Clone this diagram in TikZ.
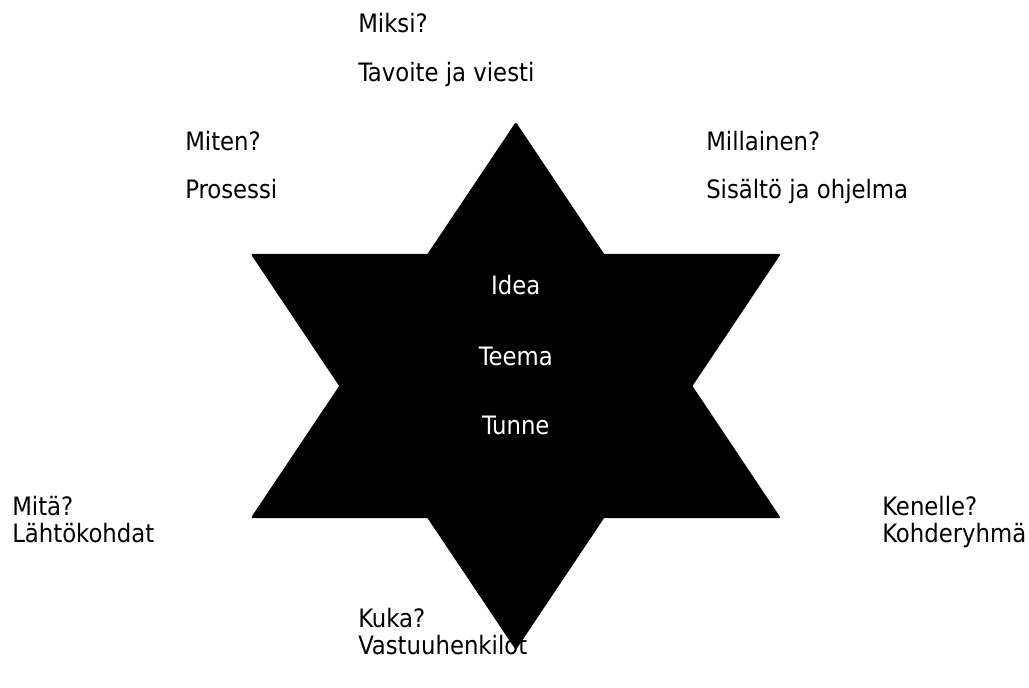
\documentclass[tikz,border=0pt]{standalone}
\usepackage{fontspec}
\setmainfont{DejaVu Sans Condensed}
\usetikzlibrary{positioning,calc}
\tikzset{
  lbl/.style={font=\fontsize{19}{22}\selectfont, inner sep=0pt, anchor=base west},
  core/.style={lbl, anchor=base, text=white},
  starfill/.style={fill=black, rounded corners=1.5pt}
}

\begin{document}
\begin{tikzpicture}[x=0.75pt,y=-0.75pt]
\useasboundingbox (0,0) rectangle (1029,688);
\coordinate (c) at (515.8,386);
% the star, two triangles
\fill[starfill] ($(c)+(0,-264)$) -- ($(c)+(265,132)$) -- ($(c)+(-265,132)$) -- cycle;
\fill[starfill] ($(c)+(0,264)$) -- ($(c)+(265,-132)$) -- ($(c)+(-265,-132)$) -- cycle;

% middle
\node[core] (idea) at (515.8,295) {Idea};
\node[core] (teema) at ($(idea.base)+(0,70)$) {Teema};
\node[core] (tunne) at ($(teema.base)+(0,69)$) {Tunne};

% questions round the star
\node[lbl] (miksi) at (358,33) {Miksi?};
\node[lbl] (tavoite) at ($(miksi.base west)+(0,49)$) {Tavoite ja viesti};
\node[lbl] (miten) at (185,151) {Miten?};
\node[lbl] (prosessi) at ($(miten.base west)+(0,48)$) {Prosessi};
\node[lbl] (millainen) at (706,151) {Millainen?};
\node[lbl] (sisalto) at ($(millainen.base west)+(0,48)$) {Sisältö ja ohjelma};
\node[lbl] (mita) at (12,515) {Mitä?};
\node[lbl] (lahto) at ($(mita.base west)+(0,27)$) {Lähtökohdat};
\node[lbl] (kenelle) at (882,515) {Kenelle?};
\node[lbl] (kohde) at ($(kenelle.base west)+(0,27)$) {Kohderyhmä};
\node[lbl] (kuka) at (358,627) {Kuka?};
\node[lbl] (vastuu) at ($(kuka.base west)+(0,27)$) {Vastuuhenkilöt};
\end{tikzpicture}
\end{document}
